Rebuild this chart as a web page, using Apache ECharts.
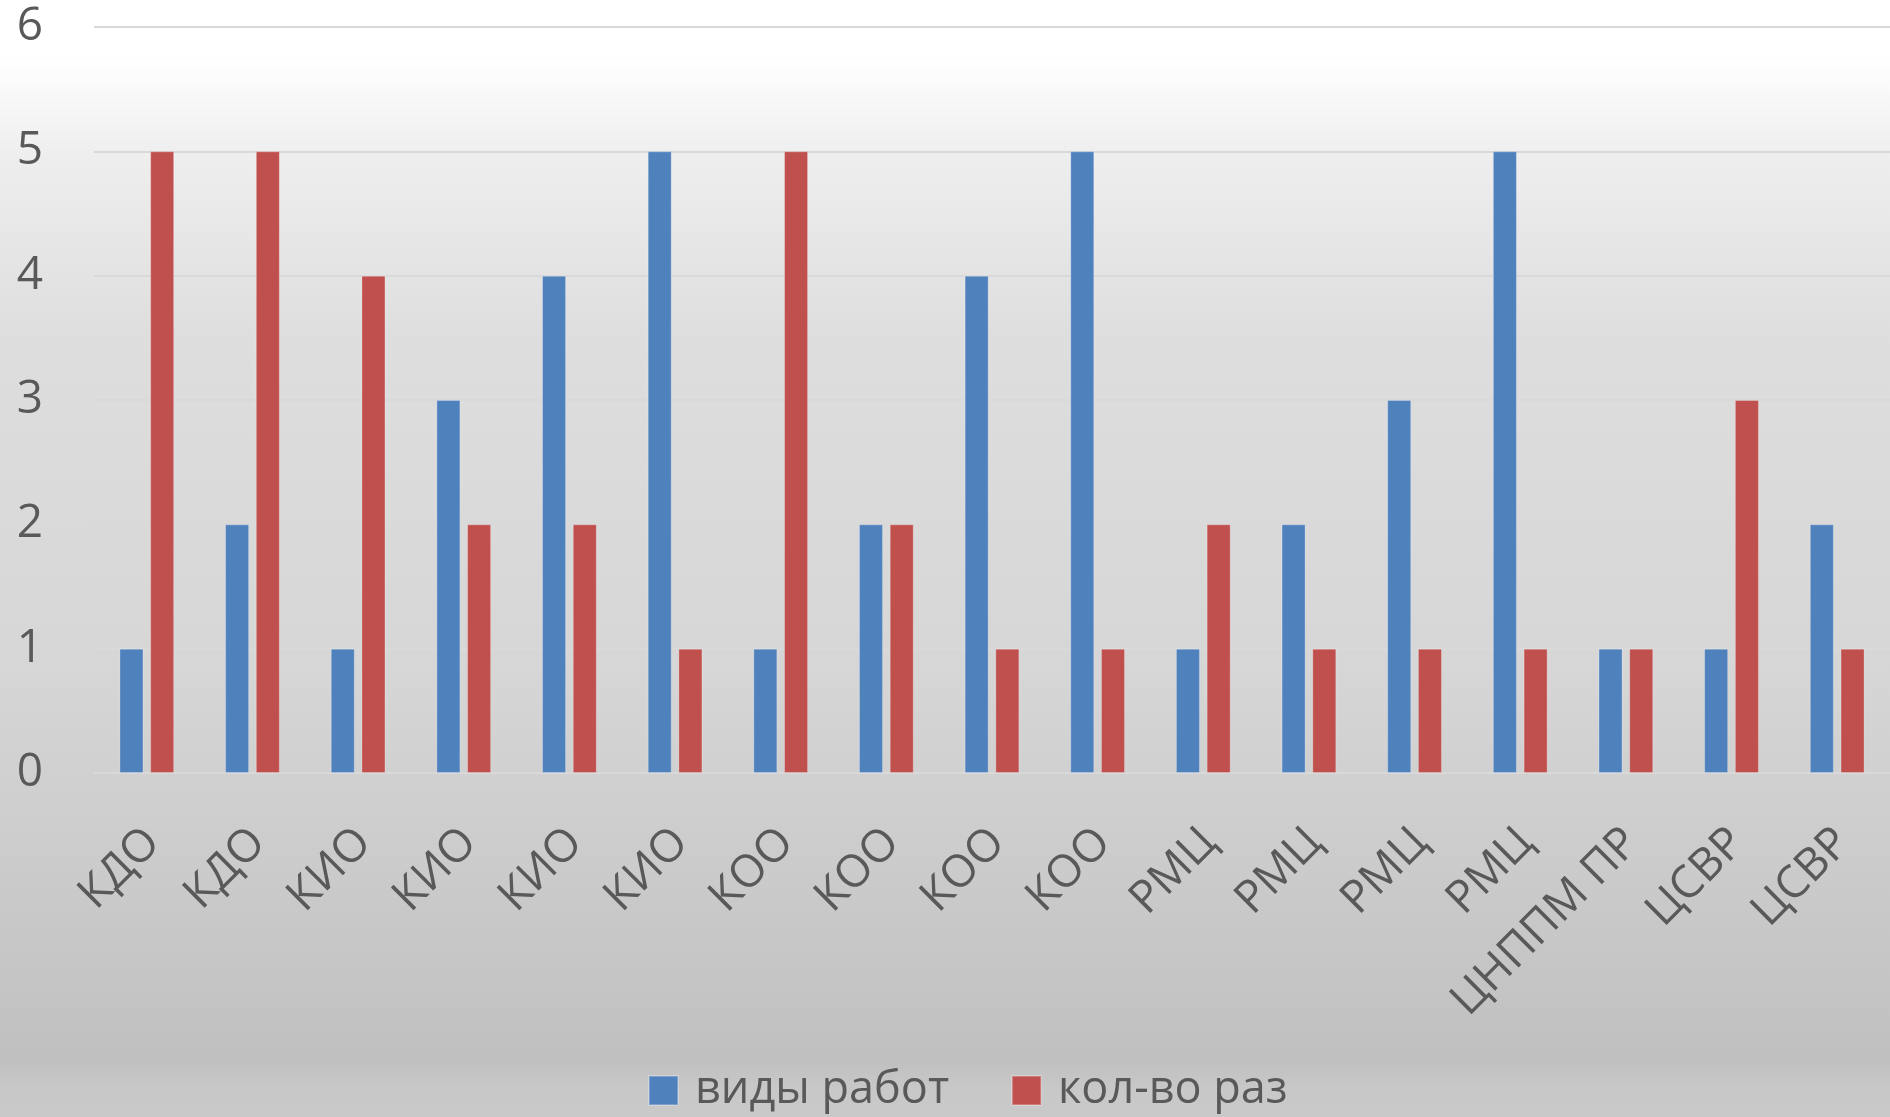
<!DOCTYPE html>
<html>
<head>
<meta charset="utf-8">
<script src="https://cdn.jsdelivr.net/npm/echarts@6/dist/echarts.min.js"></script>
<style>
html,body{margin:0;padding:0;background:#fff;}
#chart{width:1890px;height:1117px;}
</style>
</head>
<body>
<div id="chart"></div>
<script>
const categories = ["КДО","КДО","КИО","КИО","КИО","КИО","КОО","КОО","КОО","КОО","РМЦ","РМЦ","РМЦ","РМЦ","ЦНППМ ПР","ЦСВР","ЦСВР"];
const seriesNames = ["виды работ","кол-во раз"];
const vidyRabot = [1,2,1,3,4,5,1,2,4,5,1,2,3,5,1,1,2];
const kolVoRaz = [5,5,4,2,2,1,5,2,1,1,2,1,1,1,1,3,1];
const yTicks = {min:0, max:6, interval:1};

const FONT = "'Open Sans', 'Noto Sans', sans-serif";
const chart = echarts.init(document.getElementById('chart'), null, {renderer:'canvas'});
chart.setOption({
  animation:false,
  backgroundColor:{
    type:'linear', x:0, y:0, x2:0, y2:1,
    colorStops:[
      {offset:0, color:'#ffffff'},
      {offset:0.05, color:'#ffffff'},
      {offset:0.14, color:'#eeeeee'},
      {offset:0.3, color:'#dedede'},
      {offset:0.6, color:'#d6d6d6'},
      {offset:0.7, color:'#d0d0d0'},
      {offset:0.95, color:'#c0c0c0'},
      {offset:0.975, color:'#c8c8c8'},
      {offset:1, color:'#c9c9c9'}
    ]
  },
  grid:{left:94, right:0, top:27, bottom:344, containLabel:false},
  legend:{
    data:seriesNames,
    left:643, top:1063,
    itemWidth:29, itemHeight:29, itemGap:62,
    icon:'rect',
    textStyle:{fontFamily:FONT, fontSize:45, color:'#595959', padding:[0,0,0,12]}
  },
  xAxis:{
    type:'category',
    data:categories,
    axisLine:{show:true, lineStyle:{color:'#d9d9d9', width:2}},
    axisTick:{show:false},
    axisLabel:{
      interval:0, rotate:45, margin:37,
      align:'right', verticalAlign:'top', padding:[0,14,0,0],
      fontFamily:FONT, fontSize:45, color:'#595959'
    }
  },
  yAxis:{
    type:'value',
    min:yTicks.min, max:yTicks.max, interval:yTicks.interval,
    axisLine:{show:false}, axisTick:{show:false},
    splitLine:{lineStyle:{color:'#d9d9d9', width:2}},
    axisLabel:{margin:51, fontFamily:FONT, fontSize:46, color:'#595959'}
  },
  series:[
    {name:seriesNames[0], type:'bar', data:vidyRabot, barWidth:24, barGap:'28%',
     itemStyle:{color:'#4f81bd', borderColor:'rgba(255,255,255,0.25)', borderWidth:1}},
    {name:seriesNames[1], type:'bar', data:kolVoRaz, barWidth:24, barGap:'28%',
     itemStyle:{color:'#c0504d', borderColor:'rgba(255,255,255,0.25)', borderWidth:1}}
  ]
});
</script>
</body>
</html>
